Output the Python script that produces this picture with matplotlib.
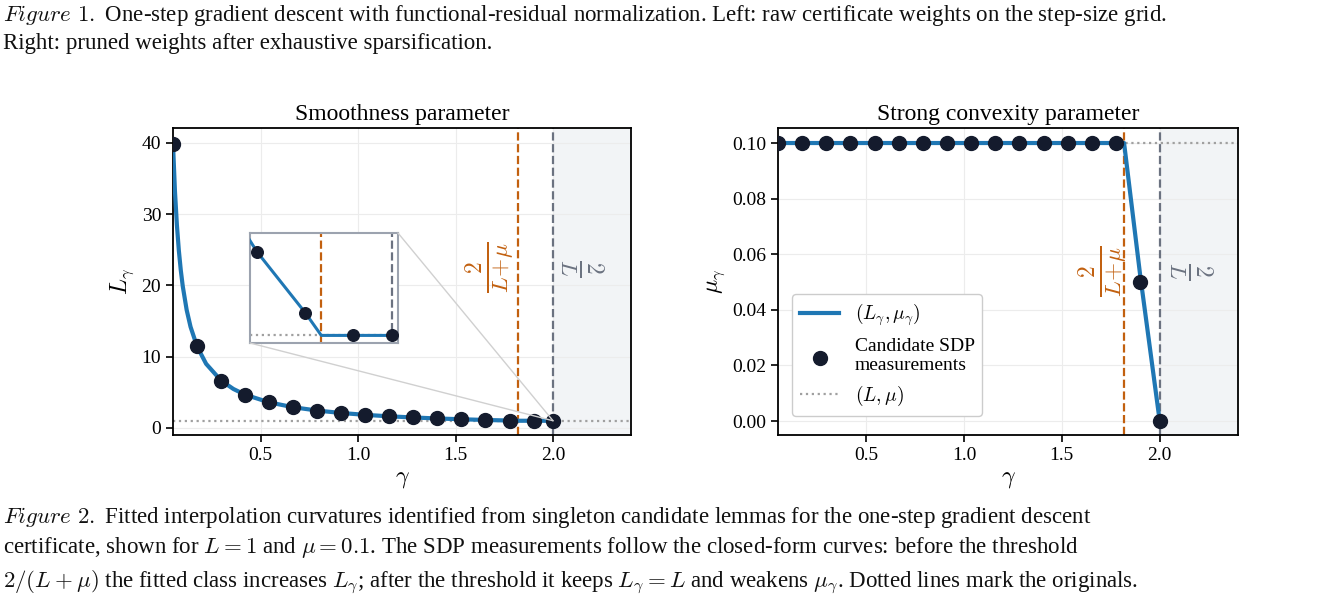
import matplotlib
matplotlib.use("Agg")
import matplotlib.pyplot as plt
from matplotlib.patches import ConnectionPatch

plt.rcParams['font.family'] = ['Liberation Serif', 'DejaVu Serif']
plt.rcParams['mathtext.fontset'] = 'cm'

# measured points
gamma_pts = [0.05, 0.1733, 0.2967, 0.42, 0.5433, 0.6667, 0.79, 0.9133, 1.0367, 1.16,
             1.2833, 1.4067, 1.53, 1.6533, 1.7767, 1.9, 2.0]
L_pts = [39.9, 11.44, 6.64, 4.66, 3.58, 2.90, 2.43, 2.09, 1.83, 1.62,
         1.46, 1.32, 1.21, 1.11, 1.03, 1.0, 1.0]
mu_pts = [0.1, 0.1, 0.1, 0.1, 0.1, 0.1, 0.1, 0.1, 0.1, 0.1,
          0.1, 0.1, 0.1, 0.1, 0.1, 0.05, 0.0]
# closed-form curve samples
gamma_curve = [0.05, 0.06, 0.07, 0.08, 0.09, 0.10, 0.12, 0.14, 0.1733, 0.22, 0.2967, 0.36,
               0.42, 0.5433, 0.6667, 0.79, 0.9133, 1.0367, 1.16, 1.2833, 1.4067, 1.53,
               1.6533, 1.7767, 1.818, 1.9, 2.0]
L_curve = [39.9, 33.23, 28.47, 24.9, 22.12, 19.9, 16.57, 14.19, 11.44, 8.99, 6.64, 5.46,
           4.66, 3.58, 2.90, 2.43, 2.09, 1.83, 1.62, 1.46, 1.32, 1.21,
           1.11, 1.03, 1.0, 1.0, 1.0]
mu_curve = [0.1] * 25 + [0.0526, 0.0]
L0, mu0 = 1.0, 0.1
thr_mu = 1.818
thr_L = 2.0

BLUE = '#1f77b4'
DOT = '#141b2d'
ORANGE = '#c2600f'
GRAY = '#6b7280'

fig = plt.figure(figsize=(13.33, 6.01), dpi=100)
W, H = 1333, 601
def axrect(x0, y0, x1, y1):
    return [x0 / W, 1 - y1 / H, (x1 - x0) / W, (y1 - y0) / H]

axL = fig.add_axes(axrect(173, 128, 631, 435))
axR = fig.add_axes(axrect(778, 128, 1238, 435))

def style(ax):
    ax.grid(True, color='#ececec', lw=0.8)
    ax.set_axisbelow(True)
    for s in ax.spines.values():
        s.set_linewidth(1.3)
    ax.tick_params(labelsize=14, width=1.2, length=5)
    ax.axvspan(thr_L, 2.4, color='#f2f4f6', zorder=0)
    ax.axvline(thr_mu, color=ORANGE, ls='--', lw=1.6, zorder=2)
    ax.axvline(thr_L, color=GRAY, ls='--', lw=1.6, zorder=2)
    ax.set_xlim(0.05, 2.4)
    ax.set_xticks([0.5, 1.0, 1.5, 2.0])
    ax.set_xlabel(r'$\gamma$', fontsize=17)

style(axL)
axL.axhline(L0, color='#a0a0a0', ls=':', lw=1.6, zorder=1)
axL.plot(gamma_curve, L_curve, color=BLUE, lw=3, zorder=3)
axL.scatter(gamma_pts, L_pts, s=100, color=DOT, zorder=4)
axL.set_ylim(-1, 42.1)
axL.set_yticks([0, 10, 20, 30, 40])
axL.set_ylabel(r'$L_\gamma$', fontsize=17)
axL.set_title('Smoothness parameter', fontsize=17, pad=6)
axL.text(1.68, 22.5, r'$\frac{2}{L\!+\!\mu}$', color=ORANGE, fontsize=24, rotation=90, ha='center', va='center')
axL.text(2.14, 22.5, r'$\frac{2}{L}$', color=GRAY, fontsize=24, rotation=-90, ha='center', va='center')

style(axR)
axR.axhline(mu0, color='#a0a0a0', ls=':', lw=1.6, zorder=1)
axR.plot(gamma_curve, mu_curve, color=BLUE, lw=3, zorder=3, label=r'$(L_\gamma, \mu_\gamma)$')
axR.scatter(gamma_pts, mu_pts, s=100, color=DOT, zorder=4, label='Candidate SDP\nmeasurements')
axR.plot([], [], color='#a0a0a0', ls=':', lw=1.6, label=r'$(L, \mu)$')
axR.set_ylim(-0.005, 0.1054)
axR.set_yticks([0.0, 0.02, 0.04, 0.06, 0.08, 0.10])
axR.set_yticklabels(['0.00', '0.02', '0.04', '0.06', '0.08', '0.10'])
axR.set_ylabel(r'$\mu_\gamma$', fontsize=17)
axR.set_title('Strong convexity parameter', fontsize=17, pad=6)
axR.text(1.715, 0.054, r'$\frac{2}{L\!+\!\mu}$', color=ORANGE, fontsize=24, rotation=90, ha='center', va='center')
axR.text(2.15, 0.054, r'$\frac{2}{L}$', color=GRAY, fontsize=24, rotation=-90, ha='center', va='center')
axR.legend(loc='lower left', fontsize=14, frameon=True, framealpha=1, edgecolor='#cccccc',
           bbox_to_anchor=(0.01, 0.03))

# inset
axI = fig.add_axes(axrect(250, 233, 398, 343))
axI.axhline(L0, color='#a0a0a0', ls=':', lw=1.6, zorder=1)
axI.axvline(thr_mu, color=ORANGE, ls='--', lw=1.6)
axI.axvline(thr_L, color=GRAY, ls='--', lw=1.6)
axI.plot(gamma_curve, L_curve, color=BLUE, lw=2.2, zorder=3)
axI.scatter(gamma_pts, L_pts, s=70, color=DOT, zorder=4, clip_on=True)
axI.set_xlim(1.635, 2.015)
axI.set_ylim(0.99, 1.135)
axI.set_xticks([]); axI.set_yticks([])
for s in axI.spines.values():
    s.set_color('#9ca3af'); s.set_linewidth(1.5)
for (xa, ya) in [(1.0, 1.0), (0.0, 0.0)]:
    cp = ConnectionPatch(xyA=(xa, ya), coordsA=axI.transAxes, xyB=(2.0, 1.0), coordsB=axL.transData,
                         color='#d0d0d0', lw=1)
    fig.add_artist(cp)

# captions
cap = dict(fontsize=16.5, color='#111111', va='center')
fig.text(3 / W, 1 - 16 / H, r'$\it{Figure\ 1.}$ One-step gradient descent with functional-residual normalization. Left: raw certificate weights on the step-size grid.', **cap)
fig.text(3 / W, 1 - 44 / H, 'Right: pruned weights after exhaustive sparsification.', **cap)
fig.text(3 / W, 1 - 517 / H, r'$\it{Figure\ 2.}$ Fitted interpolation curvatures identified from singleton candidate lemmas for the one-step gradient descent', **cap)
fig.text(3 / W, 1 - 548 / H, r'certificate, shown for $L = 1$ and $\mu = 0.1$. The SDP measurements follow the closed-form curves: before the threshold', **cap)
fig.text(3 / W, 1 - 582 / H, r'$2/(L+\mu)$ the fitted class increases $L_\gamma$; after the threshold it keeps $L_\gamma = L$ and weakens $\mu_\gamma$. Dotted lines mark the originals.', **cap)

fig.savefig('out.png', dpi=100)
